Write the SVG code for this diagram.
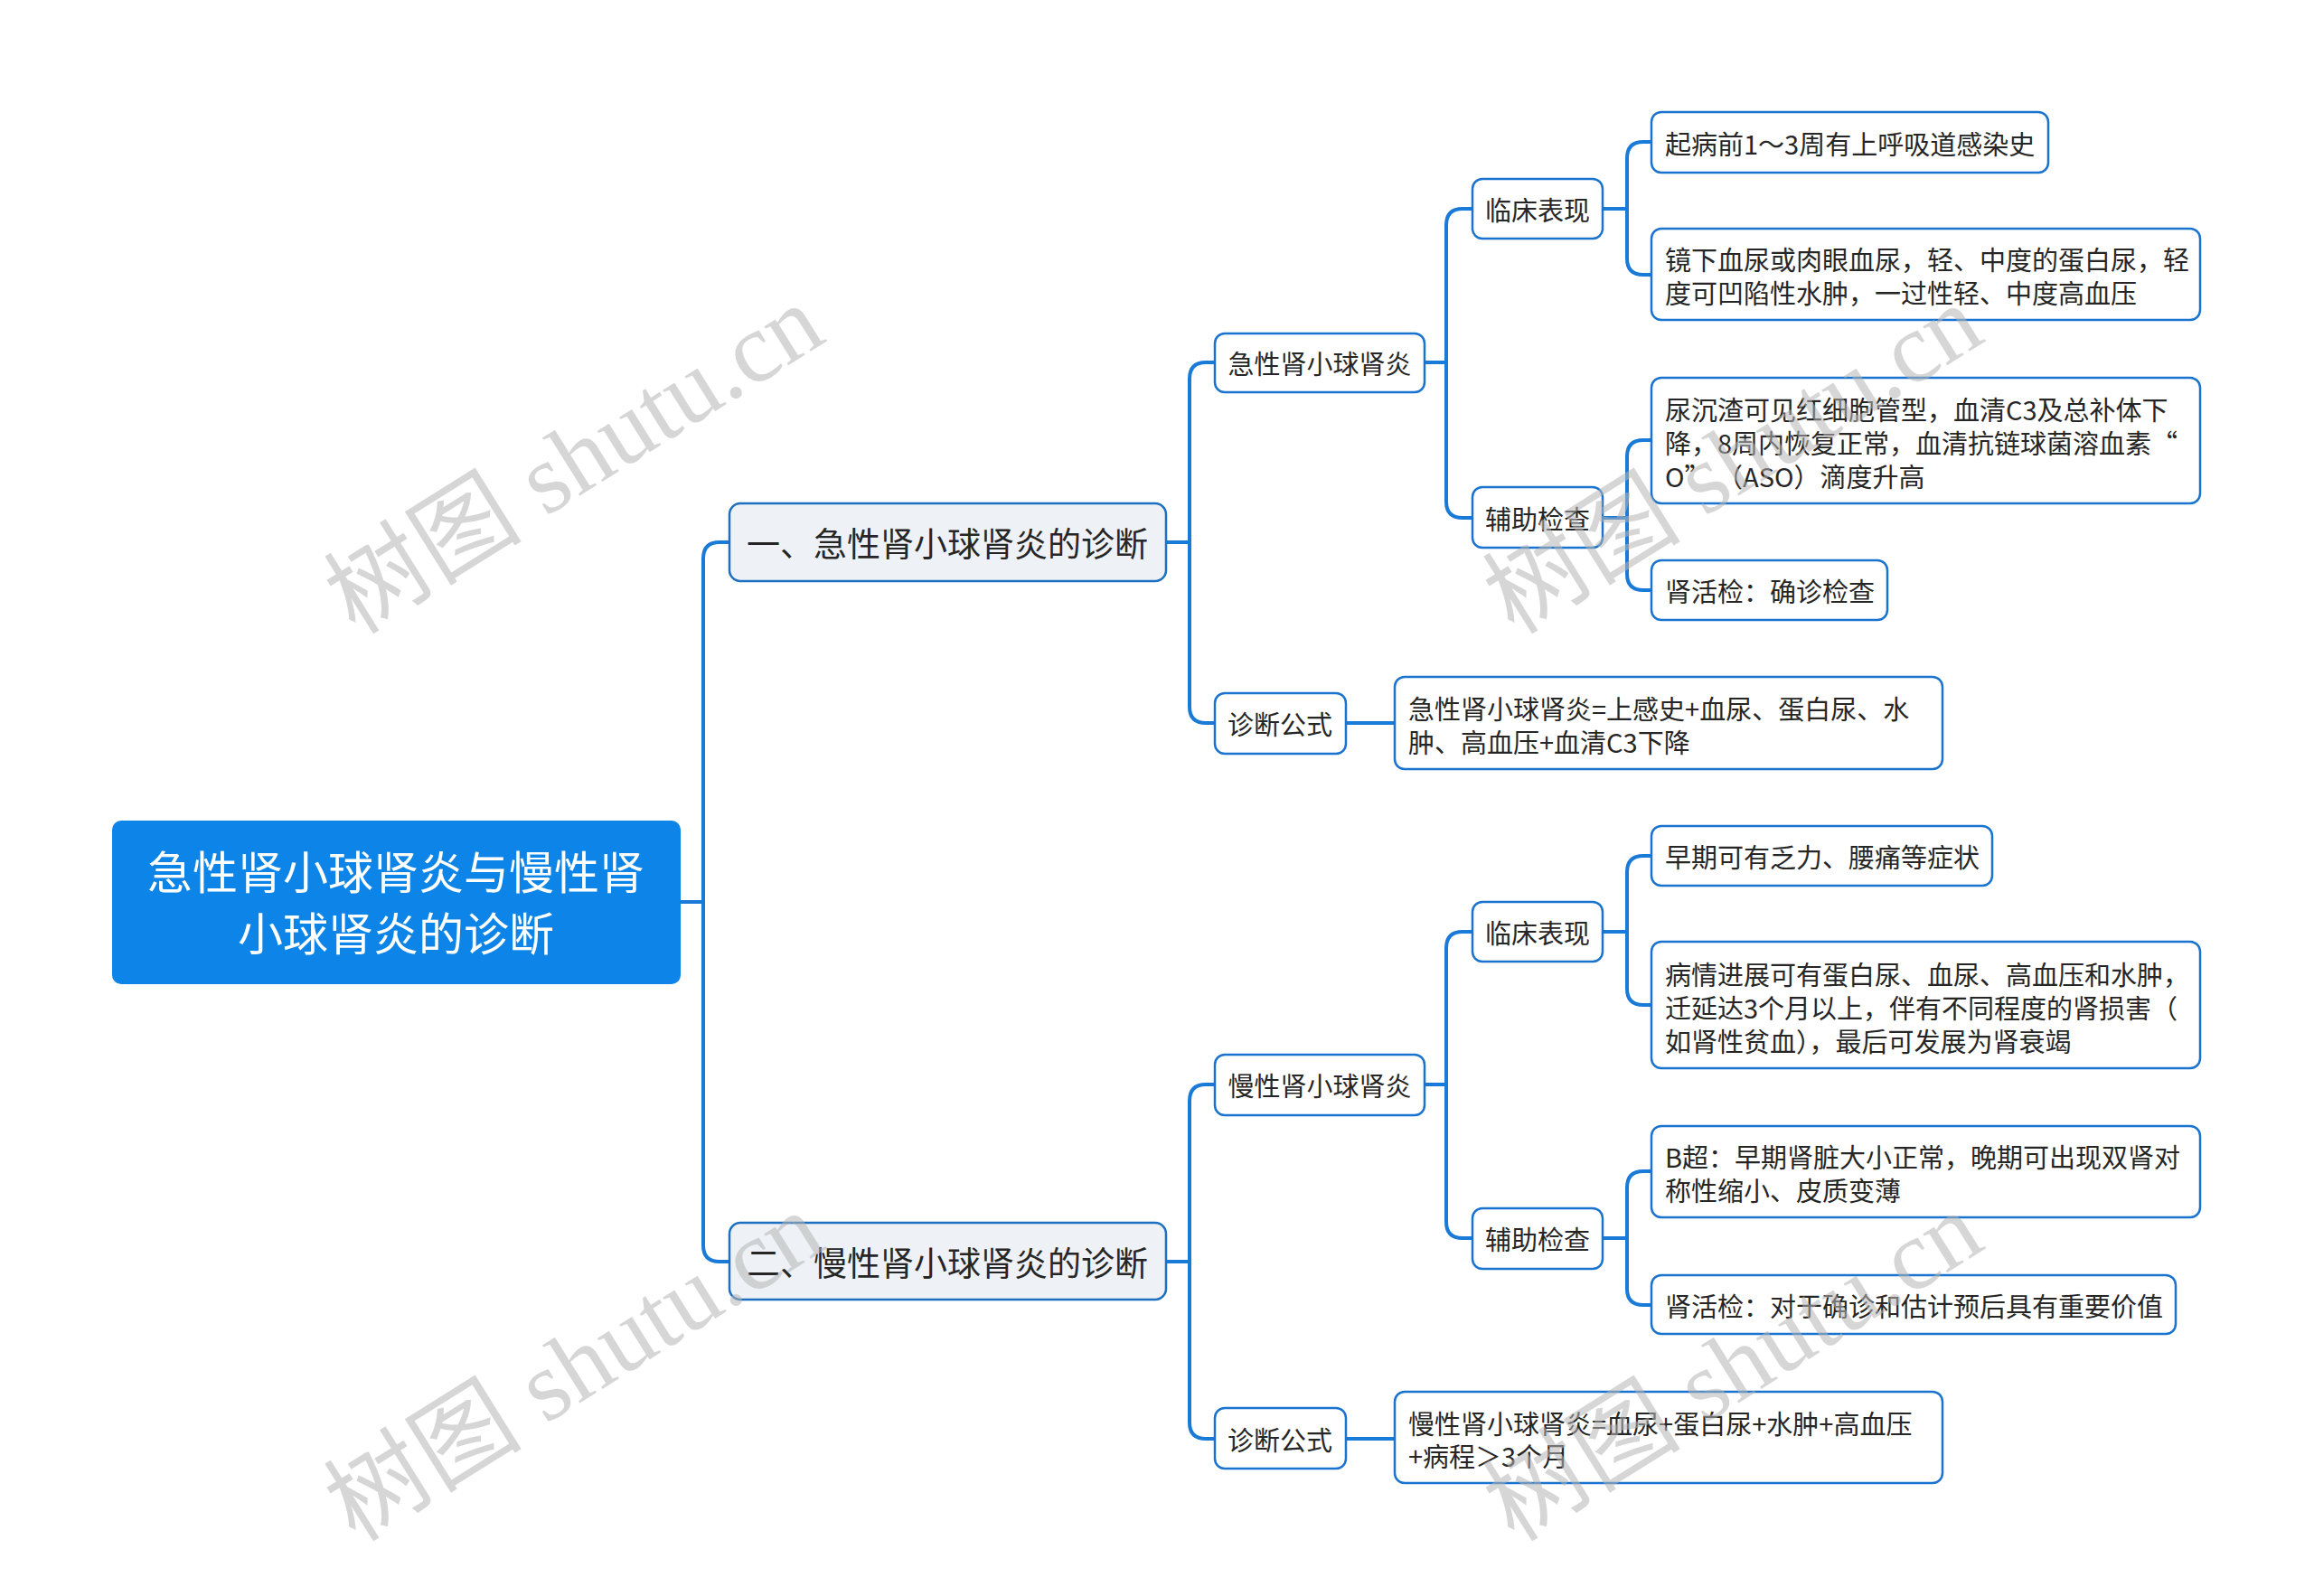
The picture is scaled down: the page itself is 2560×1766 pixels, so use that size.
<svg xmlns="http://www.w3.org/2000/svg" width="2560" height="1766" viewBox="0 0 2560 1766">
<style>
.t{font-family:"Noto Sans CJK SC","Liberation Sans",sans-serif;fill:#262626;dominant-baseline:central}
.c{text-anchor:middle}
.leaf{fill:#ffffff;stroke:#1a73cf;stroke-width:2.5}
.l1{fill:#eef2f6;stroke:#1d6fbf;stroke-width:2.5}
.conn{fill:none;stroke:#1a7ad8;stroke-width:4;stroke-linecap:round;stroke-linejoin:round}
.wm{font-family:"Liberation Serif","Noto Sans CJK SC",serif;font-size:110px;fill:#b4b4b4;fill-opacity:0.55}
</style>
<rect width="2560" height="1766" fill="#ffffff"/>
<g id="connectors">
<path class="conn" d="M753 998 H778 V618 Q778 600 796 600 H807"/>
<path class="conn" d="M753 998 H778 V1378 Q778 1396 796 1396 H807"/>
<path class="conn" d="M1290 600 H1316 V419 Q1316 401 1334 401 H1344"/>
<path class="conn" d="M1290 600 H1316 V782 Q1316 800 1334 800 H1344"/>
<path class="conn" d="M1576 401 H1600 V249 Q1600 231 1618 231 H1629"/>
<path class="conn" d="M1576 401 H1600 V555 Q1600 573 1618 573 H1629"/>
<path class="conn" d="M1773 231 H1800 V175 Q1800 157 1818 157 H1827"/>
<path class="conn" d="M1773 231 H1800 V286 Q1800 304 1818 304 H1827"/>
<path class="conn" d="M1773 573 H1800 V505 Q1800 487 1818 487 H1827"/>
<path class="conn" d="M1773 573 H1800 V635 Q1800 653 1818 653 H1827"/>
<path class="conn" d="M1489 800 H1543"/>
<path class="conn" d="M1290 1396 H1316 V1218 Q1316 1200 1334 1200 H1344"/>
<path class="conn" d="M1290 1396 H1316 V1574 Q1316 1592 1334 1592 H1344"/>
<path class="conn" d="M1576 1200 H1600 V1049 Q1600 1031 1618 1031 H1629"/>
<path class="conn" d="M1576 1200 H1600 V1352 Q1600 1370 1618 1370 H1629"/>
<path class="conn" d="M1773 1031 H1800 V965 Q1800 947 1818 947 H1827"/>
<path class="conn" d="M1773 1031 H1800 V1094 Q1800 1112 1818 1112 H1827"/>
<path class="conn" d="M1773 1370 H1800 V1314 Q1800 1296 1818 1296 H1827"/>
<path class="conn" d="M1773 1370 H1800 V1426 Q1800 1444 1818 1444 H1827"/>
<path class="conn" d="M1489 1592 H1543"/>
</g>
<g id="root">
<rect x="124" y="908" width="629" height="181" rx="10" fill="#0c84e8"/>
<text class="t c" x="438" y="962" font-size="50" style="fill:#ffffff">急性肾小球肾炎与慢性肾</text>
<text class="t c" x="438" y="1030" font-size="50" style="fill:#ffffff">小球肾炎的诊断</text>
</g>
<g id="acute-diag">
<rect class="l1" x="807" y="557" width="483" height="86" rx="12"/>
<text class="t c" x="1048" y="600" font-size="37">一、急性肾小球肾炎的诊断</text>
</g>
<g id="chronic-diag">
<rect class="l1" x="807" y="1353" width="483" height="85" rx="12"/>
<text class="t c" x="1048" y="1396" font-size="37">二、慢性肾小球肾炎的诊断</text>
</g>
<g id="acute">
<rect class="leaf" x="1344" y="369" width="232" height="65" rx="11"/>
<text class="t c" x="1460" y="401" font-size="29">急性肾小球肾炎</text>
</g>
<g id="acute-formula">
<rect class="leaf" x="1344" y="767" width="145" height="67" rx="11"/>
<text class="t c" x="1416" y="800" font-size="29">诊断公式</text>
</g>
<g id="chronic">
<rect class="leaf" x="1344" y="1167" width="232" height="67" rx="11"/>
<text class="t c" x="1460" y="1200" font-size="29">慢性肾小球肾炎</text>
</g>
<g id="chronic-formula">
<rect class="leaf" x="1344" y="1558" width="145" height="67" rx="11"/>
<text class="t c" x="1416" y="1592" font-size="29">诊断公式</text>
</g>
<g id="acute-clinical">
<rect class="leaf" x="1629" y="198" width="144" height="66" rx="11"/>
<text class="t c" x="1701" y="231" font-size="29">临床表现</text>
</g>
<g id="acute-aux">
<rect class="leaf" x="1629" y="539" width="144" height="67" rx="11"/>
<text class="t c" x="1701" y="573" font-size="29">辅助检查</text>
</g>
<g id="chronic-clinical">
<rect class="leaf" x="1629" y="998" width="144" height="66" rx="11"/>
<text class="t c" x="1701" y="1031" font-size="29">临床表现</text>
</g>
<g id="chronic-aux">
<rect class="leaf" x="1629" y="1337" width="144" height="67" rx="11"/>
<text class="t c" x="1701" y="1370" font-size="29">辅助检查</text>
</g>
<g id="leaf-a1">
<rect class="leaf" x="1827" y="124" width="439" height="67" rx="11"/>
<text class="t" x="1842" y="158" font-size="29">起病前1～3周有上呼吸道感染史</text>
</g>
<g id="leaf-a2">
<rect class="leaf" x="1827" y="253" width="607" height="101" rx="11"/>
<text class="t" x="1842" y="286" font-size="29">镜下血尿或肉眼血尿，轻、中度的蛋白尿，轻</text>
<text class="t" x="1842" y="323" font-size="29">度可凹陷性水肿，一过性轻、中度高血压</text>
</g>
<g id="leaf-a3">
<rect class="leaf" x="1827" y="418" width="607" height="139" rx="11"/>
<text class="t" x="1842" y="452" font-size="29">尿沉渣可见红细胞管型，血清C3及总补体下</text>
<text class="t" x="1842" y="489" font-size="29">降，8周内恢复正常，血清抗链球菌溶血素“</text>
<text class="t" x="1842" y="526" font-size="29">O” （ASO）滴度升高</text>
</g>
<g id="leaf-a4">
<rect class="leaf" x="1827" y="620" width="261" height="66" rx="11"/>
<text class="t" x="1842" y="653" font-size="29">肾活检：确诊检查</text>
</g>
<g id="leaf-a5">
<rect class="leaf" x="1543" y="749" width="606" height="102" rx="11"/>
<text class="t" x="1558" y="783" font-size="29">急性肾小球肾炎=上感史+血尿、蛋白尿、水</text>
<text class="t" x="1558" y="820" font-size="29">肿、高血压+血清C3下降</text>
</g>
<g id="leaf-c1">
<rect class="leaf" x="1827" y="914" width="377" height="66" rx="11"/>
<text class="t" x="1842" y="947" font-size="29">早期可有乏力、腰痛等症状</text>
</g>
<g id="leaf-c2">
<rect class="leaf" x="1827" y="1042" width="607" height="140" rx="11"/>
<text class="t" x="1842" y="1077" font-size="29">病情进展可有蛋白尿、血尿、高血压和水肿，</text>
<text class="t" x="1842" y="1114" font-size="29">迁延达3个月以上，伴有不同程度的肾损害（</text>
<text class="t" x="1842" y="1151" font-size="29">如肾性贫血），最后可发展为肾衰竭</text>
</g>
<g id="leaf-c3">
<rect class="leaf" x="1827" y="1246" width="607" height="101" rx="11"/>
<text class="t" x="1842" y="1279" font-size="29">B超：早期肾脏大小正常，晚期可出现双肾对</text>
<text class="t" x="1842" y="1316" font-size="29">称性缩小、皮质变薄</text>
</g>
<g id="leaf-c4">
<rect class="leaf" x="1827" y="1411" width="580" height="65" rx="11"/>
<text class="t" x="1842" y="1444" font-size="29">肾活检：对于确诊和估计预后具有重要价值</text>
</g>
<g id="leaf-c5">
<rect class="leaf" x="1543" y="1540" width="606" height="101" rx="11"/>
<text class="t" x="1558" y="1574" font-size="29">慢性肾小球肾炎=血尿+蛋白尿+水肿+高血压</text>
<text class="t" x="1558" y="1610" font-size="29">+病程＞3个月</text>
</g>
<g id="watermarks">
<text class="wm" text-anchor="middle" transform="translate(655 540) rotate(-32)">树图 shutu.cn</text>
<text class="wm" text-anchor="middle" transform="translate(1937 540) rotate(-32)">树图 shutu.cn</text>
<text class="wm" text-anchor="middle" transform="translate(655 1544) rotate(-32)">树图 shutu.cn</text>
<text class="wm" text-anchor="middle" transform="translate(1937 1544) rotate(-32)">树图 shutu.cn</text>
</g>
</svg>
